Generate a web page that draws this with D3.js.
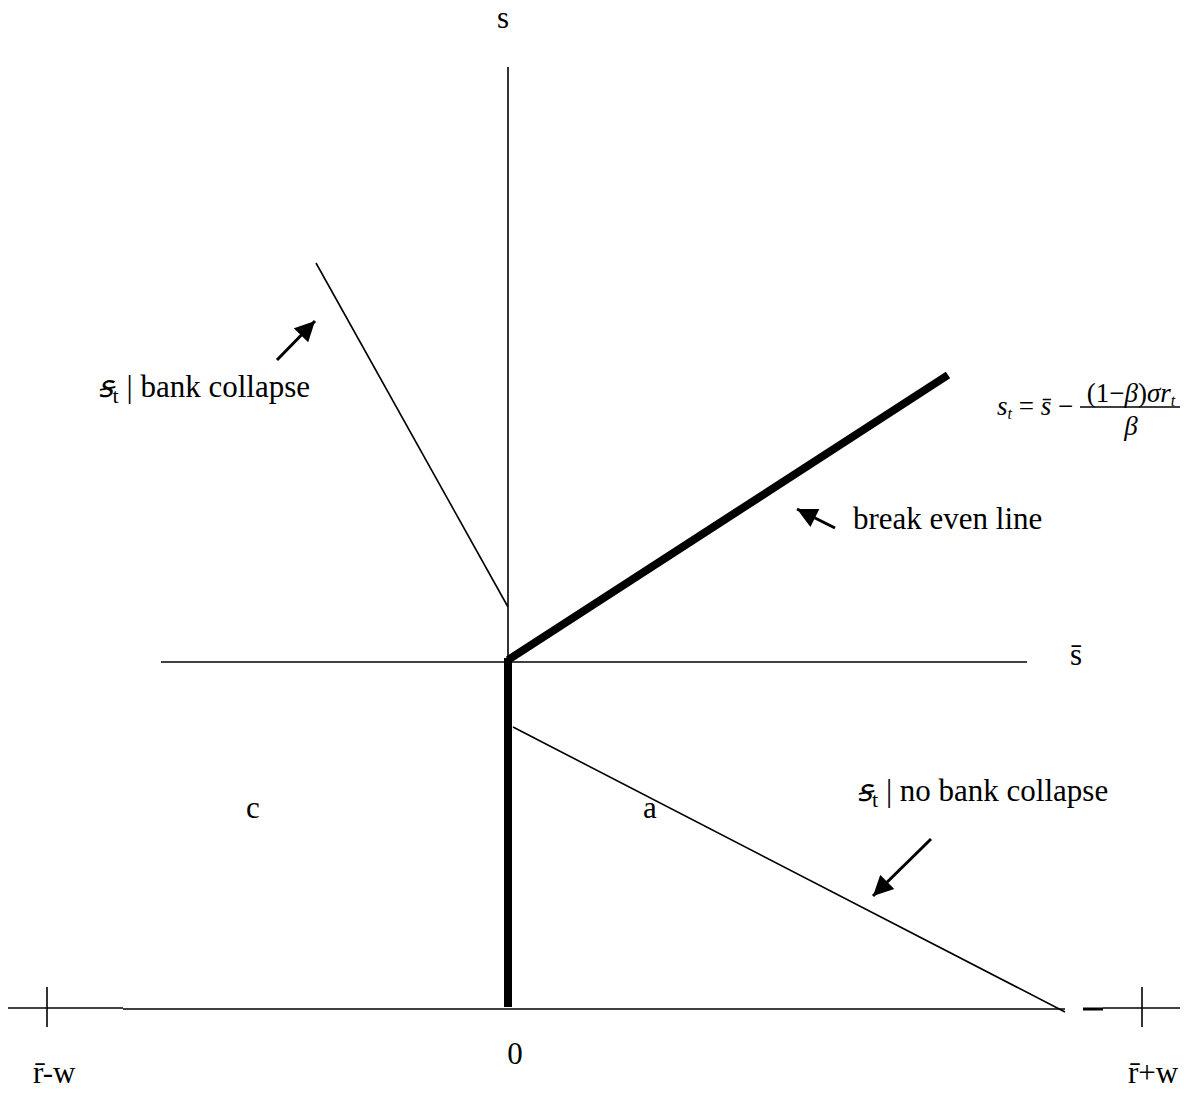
<!DOCTYPE html>
<html>
<head>
<meta charset="utf-8">
<script src="https://d3js.org/d3.v7.min.js"></script>
<style>
  body { margin: 0; background: #fff; }
  svg text { font-family: "Liberation Serif", "Times New Roman", serif; fill: #000; }
</style>
</head>
<body>
<script>
'use strict';

// all positions in chart units: r across (0 at the s axis), s up (0 at the r axis)
const sAxis = [[0, 3.46], [0, 9.41]];
const sBarLine = [[-3.47, 3.46], [5.19, 3.46]];
const rAxisParts = [
    [[-5.00, 0.00], [-3.85, 0.00]],
    [[-3.85, -0.01], [5.57, -0.01]],
    [[5.95, 0.00], [6.72, 0.00]]
];
const rAxisStub = [[5.75, -0.01], [5.95, -0.01]];
const rTicks = [-4.61, 6.34];
const tickSpan = [-0.19, 0.21];

const breakEven = [[0, 3.48], [4.40, 6.33]];
const zeroSegment = [[0, 3.50], [0, 0.01]];
const bankCollapse = [[-1.92, 7.45], [0, 4.01]];
const noBankCollapse = [[0.05, 2.81], [5.57, -0.04]];

const arrows = [
    [[-2.31, 6.48], [-1.93, 6.87]],
    [[3.27, 4.80], [2.89, 4.99]],
    [[4.23, 1.69], [3.65, 1.12]]
];

// plain labels: text, r, s, anchor
const labels = [
    ["s", -0.05, 9.80, "middle"],
    ["s\u0304", 5.68, 3.43, "middle"],
    ["break even line", 3.45, 4.79, "start"],
    ["c", -2.55, 1.90, "middle"],
    ["a", 1.42, 1.90, "middle"],
    ["0", 0.07, -0.56, "middle"],
    ["r\u0304-w", -4.75, -0.75, "start"],
    ["r\u0304+w", 6.20, -0.75, "start"]
];

// curve labels with the struck s and subscript t
const curveLabels = [
    [" | bank collapse", -1.98, 6.11, "end"],
    [" | no bank collapse", 3.49, 2.07, "start"]
];

const width = 1192, height = 1093;

const svg = d3.select("body").append("svg")
    .attr("width", width)
    .attr("height", height);

const x = d3.scaleLinear().domain([-5.08, 6.84]).range([0, 1192]);
const y = d3.scaleLinear().domain([0, 10.08]).range([1008, 0]);

const line = d3.line().x(d => x(d[0])).y(d => y(d[1]));

// arrow head
svg.append("defs").append("marker")
    .attr("id", "head")
    .attr("viewBox", "0 0 10 10")
    .attr("refX", 10).attr("refY", 5)
    .attr("markerUnits", "userSpaceOnUse")
    .attr("markerWidth", 22).attr("markerHeight", 20)
    .attr("orient", "auto")
    .append("path")
    .attr("d", "M0,0 L10,5 L0,10 Z")
    .attr("fill", "#000");

function drawLine(pts, w) {
    svg.append("path")
        .attr("d", line(pts))
        .attr("fill", "none")
        .attr("stroke", "#000")
        .attr("stroke-width", w);
}

// axes
drawLine(sAxis, 1.6);
drawLine(sBarLine, 1.6);
rAxisParts.forEach(p => drawLine(p, 1.6));
drawLine(rAxisStub, 3);
rTicks.forEach(t => drawLine([[t, tickSpan[0]], [t, tickSpan[1]]], 1.6));

// curves
drawLine(bankCollapse, 1.6);
drawLine(noBankCollapse, 1.6);
drawLine(zeroSegment, 8);
drawLine(breakEven, 8);

// arrows
arrows.forEach(a => {
    svg.append("path")
        .attr("d", line(a))
        .attr("stroke", "#000")
        .attr("stroke-width", 3)
        .attr("marker-end", "url(#head)");
});

// labels
svg.selectAll(".lbl")
    .data(labels)
    .enter()
    .append("text")
    .attr("x", d => x(d[1]))
    .attr("y", d => y(d[2]))
    .attr("text-anchor", d => d[3])
    .style("font-size", "31px")
    .text(d => d[0]);

curveLabels.forEach(d => {
    const t = svg.append("text")
        .attr("x", x(d[1]))
        .attr("y", y(d[2]))
        .attr("text-anchor", d[3])
        .style("font-size", "31px");
    t.append("tspan").style("font-style", "italic").text("\uA7A9");
    t.append("tspan").attr("dy", 6).style("font-size", "22px").text("t");
    t.append("tspan").attr("dy", -6).text(d[0]);
});

// formula for the break even line
const fx = 4.89, fy = 5.93, numX = 6.23, numY = 6.06, denY = 5.73;
const f = svg.append("text")
    .attr("x", x(fx)).attr("y", y(fy))
    .style("font-size", "27px");
f.append("tspan").style("font-style", "italic").text("s");
f.append("tspan").attr("dy", 4).style("font-size", "16px").style("font-style", "italic").text("t");
f.append("tspan").attr("dy", -4).text(" = ");
f.append("tspan").style("font-style", "italic").text("s\u0304");
f.append("tspan").text(" \u2212");

const num = svg.append("text")
    .attr("x", x(numX)).attr("y", y(numY))
    .attr("text-anchor", "middle")
    .style("font-size", "27px");
num.append("tspan").text("(1\u2212");
num.append("tspan").style("font-style", "italic").text("\u03B2");
num.append("tspan").text(")");
num.append("tspan").style("font-style", "italic").text("\u03C3r");
num.append("tspan").attr("dy", 4).style("font-size", "16px").style("font-style", "italic").text("t");

drawLine([[5.72, 6.01], [6.72, 6.01]], 1.3);

svg.append("text")
    .attr("x", x(numX)).attr("y", y(denY))
    .attr("text-anchor", "middle")
    .style("font-size", "27px")
    .style("font-style", "italic")
    .text("\u03B2");
</script>
</body>
</html>
